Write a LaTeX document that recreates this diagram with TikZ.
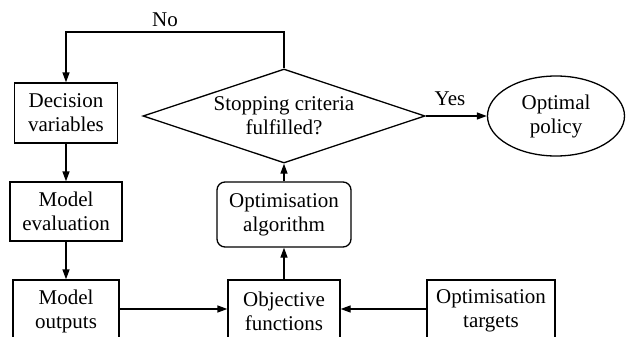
\documentclass[tikz,border=0pt]{standalone}
\usepackage{fontspec}
\setmainfont{Liberation Serif}
\usetikzlibrary{shapes.geometric,arrows.meta}
\begin{document}
\begin{tikzpicture}[x=1pt,y=-1pt,
  every node/.style={font=\fontsize{21}{24}\selectfont, align=center, inner sep=0pt},
  box/.style={draw, line width=1.3pt, rectangle},
  rbox/.style={draw, line width=1.3pt, rectangle, rounded corners=8pt},
  decision/.style={draw, line width=1.3pt, diamond, aspect=3, minimum width=282pt, minimum height=94pt},
  term/.style={draw, line width=1.3pt, ellipse, minimum width=137pt, minimum height=80pt},
  arr/.style={line width=1.3pt, -{Triangle[length=10pt,width=7pt]}},
  lbl/.style={font=\fontsize{21}{24}\selectfont}]
\clip (0,0) rectangle (626,337);
\useasboundingbox (0,0) rectangle (626,337);
\node[box, minimum width=103pt, minimum height=60pt] (dv) at (66,113) {Decision\\variables};
\node[box, minimum width=112pt, minimum height=59pt] (me) at (66,211.5) {Model\\evaluation};
\node[box, minimum width=106pt, minimum height=62pt] (mo) at (66,311) {Model\\outputs};
\node[box, minimum width=112pt, minimum height=62pt] (of) at (284,311) {Objective\\functions};
\node[box, minimum width=128pt, minimum height=62pt] (ot) at (491,311) {Optimisation\\targets};
\node[rbox, minimum width=134pt, minimum height=65pt] (oa) at (284,214.5) {Optimisation\\algorithm};
\node[decision] (sc) at (284,116) {Stopping criteria\\fulfilled?};
\node[term] (op) at (556,116) {Optimal\\policy};
\coordinate (top) at (284,32);
\draw[arr] (sc.north) -- (top) -| (dv.north);
\node[lbl] (no) at (165,20) {No};
\draw[arr] (dv.south) -- (me.north);
\draw[arr] (me.south) -- (mo.north);
\draw[arr] (mo.east |- 0,309) -- (of.west |- 0,309);
\draw[arr] (ot.west |- 0,309) -- (of.east |- 0,309);
\draw[arr] (of.north) -- (oa.south);
\draw[arr] (oa.north) -- (sc.south);
\draw[arr] (sc.east) -- (op.west);
\node[lbl] (yes) at (450,99) {Yes};
\end{tikzpicture}
\end{document}
